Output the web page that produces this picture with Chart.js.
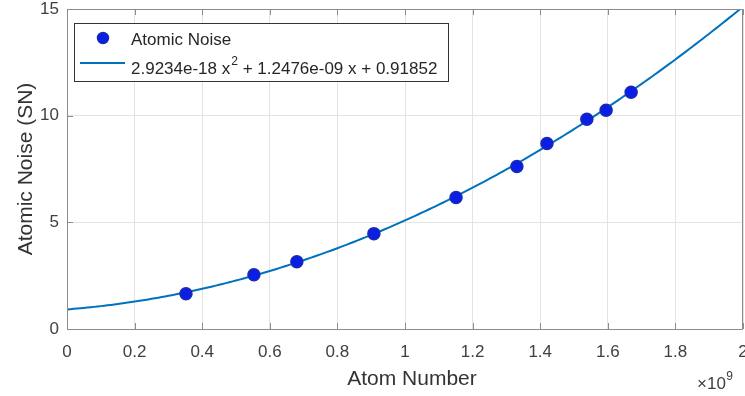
<!DOCTYPE html>
<html>
<head>
<meta charset="utf-8">
<script src="https://cdn.jsdelivr.net/npm/chart.js@4/dist/chart.umd.min.js"></script>
<style>
  html, body { margin: 0; padding: 0; background: #fff; }
  #wrap { width: 745px; height: 396px; }
</style>
</head>
<body>
<div id="wrap"><canvas id="c" width="745" height="396"></canvas></div>
<script>
// Measured atomic noise against atom number
const atomNumbers = [0.352e9, 0.553e9, 0.680e9, 0.908e9, 1.151e9, 1.331e9, 1.420e9, 1.538e9, 1.595e9, 1.669e9];
const noiseValues = [1.65, 2.54, 3.15, 4.47, 6.16, 7.62, 8.70, 9.83, 10.25, 11.10];

// Quadratic fit coefficients [a2, a1, a0] as stated in the legend
const fitCoefficients = [2.9234e-18, 1.2476e-09, 0.91852];
const fitRange = [0, 2e9];

const xTicks = [0, 0.2e9, 0.4e9, 0.6e9, 0.8e9, 1.0e9, 1.2e9, 1.4e9, 1.6e9, 1.8e9, 2.0e9];
const yTicks = [0, 5, 10, 15];

const seriesLabels = ['Atomic Noise', '2.9234e-18 x', '2', ' + 1.2476e-09 x + 0.91852'];
const axisTitles = { x: 'Atom Number', y: 'Atomic Noise (SN)' };

// Evaluate the fitted polynomial along the x range
const fitPoints = [];
for (let i = 0; i <= 200; i++) {
  const x = fitRange[0] + (fitRange[1] - fitRange[0]) * i / 200;
  fitPoints.push({ x: x, y: fitCoefficients[0] * x * x + fitCoefficients[1] * x + fitCoefficients[2] });
}
const measured = atomNumbers.map((x, i) => ({ x: x, y: noiseValues[i] }));

const FONT = '"Liberation Sans", Arial, sans-serif';
const LINE_COLOR = '#0072BD';
const DOT_FILL = '#0a1ee6';
const DOT_EDGE = '#1a2bb0';
const TEXT_COLOR = '#404040';

// Box frame, inward ticks, axis titles, exponent label and in-axes legend
const decorations = {
  id: 'decorations',
  afterDraw(chart) {
    const ctx = chart.ctx;
    const a = chart.chartArea;
    const xs = chart.scales.x, ys = chart.scales.y;
    ctx.save();
    // frame
    ctx.strokeStyle = '#8c8c8c';
    ctx.lineWidth = 1;
    ctx.beginPath();
    ctx.moveTo(a.left + 0.5, a.bottom + 0.5);
    ctx.lineTo(a.left + 0.5, a.top + 0.5);
    ctx.lineTo(a.right - 0.5, a.top + 0.5);
    ctx.lineTo(a.right - 0.5, a.bottom + 0.5);
    ctx.lineTo(a.left + 0.5, a.bottom + 0.5);
    ctx.stroke();
    // inward ticks
    ctx.beginPath();
    xTicks.forEach(v => {
      const px = Math.round(xs.getPixelForValue(v)) + 0.5;
      ctx.moveTo(px, a.bottom); ctx.lineTo(px, a.bottom - 6);
      ctx.moveTo(px, a.top); ctx.lineTo(px, a.top + 6);
    });
    yTicks.forEach(v => {
      const py = Math.round(ys.getPixelForValue(v)) + 0.5;
      ctx.moveTo(a.left, py); ctx.lineTo(a.left + 6, py);
    });
    ctx.stroke();

    // axis titles
    ctx.fillStyle = '#333333';
    ctx.font = '21px ' + FONT;
    ctx.textAlign = 'center';
    ctx.textBaseline = 'alphabetic';
    ctx.fillText(axisTitles.x, 412, 385);
    ctx.save();
    ctx.translate(32, (a.top + a.bottom) / 2);
    ctx.rotate(-Math.PI / 2);
    ctx.fillText(axisTitles.y, 0, 0);
    ctx.restore();

    // exponent label
    ctx.fillStyle = TEXT_COLOR;
    ctx.textAlign = 'left';
    ctx.font = '17px ' + FONT;
    const ex = 697;
    ctx.fillText('\u00d710', ex, 389);
    const ew = ctx.measureText('\u00d710').width;
    ctx.font = '12px ' + FONT;
    ctx.fillText('9', ex + ew + 0.5, 380);

    // legend box
    const lx = 74, ly = 23, lw = 374, lh = 58;
    ctx.fillStyle = '#ffffff';
    ctx.fillRect(lx, ly, lw, lh);
    ctx.strokeStyle = '#333333';
    ctx.lineWidth = 1;
    ctx.strokeRect(lx + 0.5, ly + 0.5, lw, lh);

    // marker entry
    ctx.beginPath();
    ctx.arc(103, 38, 5.5, 0, Math.PI * 2);
    ctx.fillStyle = DOT_FILL;
    ctx.fill();
    ctx.strokeStyle = DOT_EDGE;
    ctx.lineWidth = 1.5;
    ctx.stroke();
    // line entry
    ctx.beginPath();
    ctx.moveTo(80, 63); ctx.lineTo(125, 63);
    ctx.strokeStyle = LINE_COLOR;
    ctx.lineWidth = 2;
    ctx.stroke();

    ctx.fillStyle = '#262626';
    ctx.font = '17px ' + FONT;
    ctx.fillText(seriesLabels[0], 131, 45);
    let tx = 131;
    ctx.fillText(seriesLabels[1], tx, 74);
    tx += ctx.measureText(seriesLabels[1]).width;
    ctx.font = '12px ' + FONT;
    ctx.fillText(seriesLabels[2], tx + 1, 65);
    tx += ctx.measureText(seriesLabels[2]).width + 1;
    ctx.font = '17px ' + FONT;
    ctx.fillText(seriesLabels[3], tx, 74);
    ctx.restore();
  }
};

new Chart(document.getElementById('c'), {
  type: 'scatter',
  data: {
    datasets: [
      {
        label: 'fit',
        data: fitPoints,
        showLine: true,
        borderColor: LINE_COLOR,
        borderWidth: 2,
        pointRadius: 0,
        tension: 0,
        order: 2
      },
      {
        label: seriesLabels[0],
        data: measured,
        pointRadius: 6,
        pointBackgroundColor: DOT_FILL,
        pointBorderColor: DOT_EDGE,
        pointBorderWidth: 1.5,
        order: 1
      }
    ]
  },
  options: {
    responsive: false,
    animation: false,
    devicePixelRatio: 1,
    layout: { autoPadding: false, padding: { top: 9, right: 2, left: 0, bottom: 0 } },
    plugins: { legend: { display: false }, tooltip: { enabled: false } },
    scales: {
      x: {
        type: 'linear',
        min: 0, max: 2e9,
        afterBuildTicks(s) { s.ticks = xTicks.map(v => ({ value: v })); },
        afterFit(s) { s.height = 67; s.paddingLeft = 0; s.paddingRight = 0; },
        ticks: {
          color: TEXT_COLOR,
          font: { family: FONT, size: 17 },
          padding: 13,
          maxRotation: 0,
          callback: v => String(parseFloat((v / 1e9).toFixed(1)))
        },
        grid: { color: '#e3e3e3', lineWidth: 1, drawTicks: false },
        border: { display: false },
        title: { display: false }
      },
      y: {
        type: 'linear',
        min: 0, max: 15,
        afterBuildTicks(s) { s.ticks = yTicks.map(v => ({ value: v })); },
        afterFit(s) { s.width = 67; s.paddingTop = 0; s.paddingBottom = 0; },
        ticks: {
          color: TEXT_COLOR,
          font: { family: FONT, size: 17 },
          padding: 8
        },
        grid: { color: '#e3e3e3', lineWidth: 1, drawTicks: false },
        border: { display: false },
        title: { display: false }
      }
    }
  },
  plugins: [decorations]
});
</script>
</body>
</html>
